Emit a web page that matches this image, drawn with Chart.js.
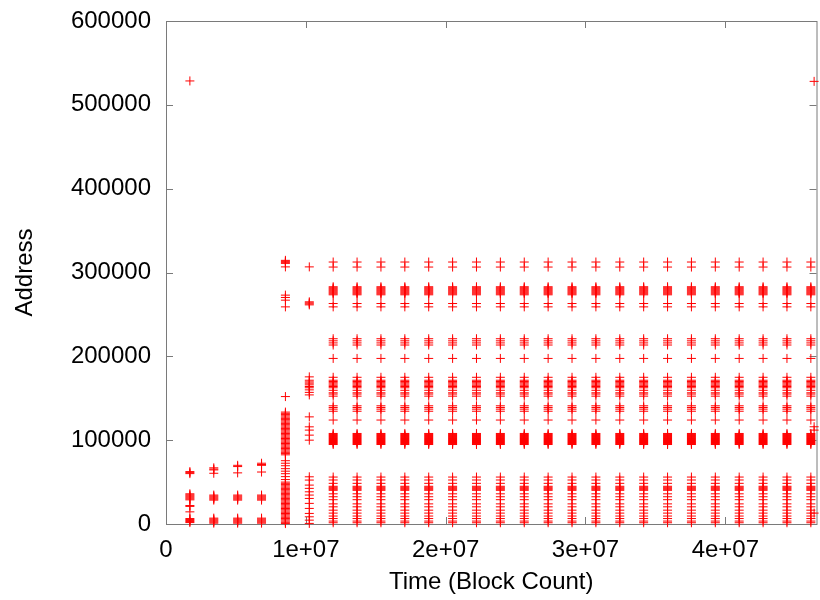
<!DOCTYPE html>
<html>
<head>
<meta charset="utf-8">
<script src="https://cdn.jsdelivr.net/npm/chart.js@4/dist/chart.umd.min.js"></script>
<style>
  html, body { margin: 0; padding: 0; background: #fff; }
  #wrap { width: 820px; height: 600px; overflow: hidden; }
</style>
</head>
<body>
<div id="wrap"><canvas id="chart" width="822" height="600"></canvas></div>
<script>
// axis ticks
const xTicks = [0, 10000000, 20000000, 30000000, 40000000];
const xTickLabels = ['0', '1e+07', '2e+07', '3e+07', '4e+07'];
const yTicks = [0, 100000, 200000, 300000, 400000, 500000, 600000];
const yTickLabels = ['0', '100000', '200000', '300000', '400000', '500000', '600000'];
const xMax = 46520000;

// sampling times (block count) of each column
const earlyTimes = [1708000, 3416000, 5124000, 6832000];
const burstTime = 8540000;
const transitionTime = 10248000;
const steadyTimes = [11956000, 13664000, 15372000, 17080000, 18788000, 20496000, 22204000,
  23912000, 25620000, 27328000, 29036000, 30744000, 32452000, 34160000, 35868000, 37576000,
  39284000, 40992000, 42700000, 44408000, 46116000];
const edgeTime = 46350000;

// addresses seen in each column
const early1 = [528500, 62500, 61300, 60100, 36000, 34800, 33600, 32400, 31200, 30000, 28800,
  22000, 21000, 14500, 6500, 5300, 4100, 2900, 1700];
const early2 = [67000, 65500, 64500, 60500, 34500, 33300, 32100, 30900, 29700, 28500,
  7000, 5800, 4600, 3400, 2200, 1000];
const early3 = [70000, 68500, 61000, 34500, 33300, 32100, 30900, 29700, 28500,
  7000, 5800, 4600, 3400, 2200, 1000];
const early4 = [72500, 71000, 70000, 62000, 34500, 33300, 32100, 30900, 29700, 28500,
  7000, 5800, 4600, 3400, 2200, 1000];
const burstAddresses = [314500, 313300, 312100, 310900, 306700, 273000, 270200, 267000, 259000,
  152000,
  133500, 132000, 130500, 129000, 127500, 126000, 124500, 123000, 121500, 120000, 118500,
  117000, 115500, 114000, 112500, 111000, 109500, 108000, 106500, 105000, 103500, 102000,
  100500, 99000, 97500, 96000, 94500, 93000, 91500, 90000, 88500, 87000, 85500, 84000, 82500,
  75500, 72500, 69500, 66000, 63000, 60000, 56500, 53000,
  50000, 48500, 47000, 45500, 44000, 42500, 41000, 39500, 38000, 36500, 35000, 33500, 32000,
  30500, 29000, 27500, 26000, 24500, 23000, 21500, 20000, 18500, 17000, 15500, 14000, 12500,
  11000, 9500, 8000, 6500, 5000, 3500, 2000, 500];
const transitionAddresses = [306700, 265000, 263800, 262600, 261400,
  175500, 171500, 169500, 168000, 166000, 164000, 162500, 160000, 157000, 154000,
  127800, 115900, 112000, 106000, 100000,
  56300, 52400, 46400, 42500, 38400, 34500, 30500, 24600, 18600, 12600, 8600, 4600, 700];
const steadyAddresses = [312500, 306500,
  283000, 281800, 280600, 279400, 278200, 277000, 275800, 274600, 273400,
  263000, 259000,
  221000, 218500, 216000, 213500,
  197500,
  175000, 171500, 170000, 168500, 167000, 165500, 164000, 162500, 159500, 156500, 155000, 152500,
  141000, 139000, 137000, 134500,
  124000,
  108000, 106800, 105600, 104400, 103200, 102000, 100800, 99600, 98400, 97200, 96000, 94800,
  56000, 52500, 48500,
  45000, 43800, 42600, 41400, 40200,
  36000, 32500, 29000,
  24000, 20500, 16500,
  13000, 9500, 6500, 3500,
  1500];
const edgeAddresses = [528000, 116000, 112000, 13000];

const column = (t, list) => list.map(a => ({ x: t, y: a }));
const earlyLists = [early1, early2, early3, early4];

let points = [];
earlyTimes.forEach((t, i) => { points = points.concat(column(t, earlyLists[i])); });
points = points.concat(column(burstTime, burstAddresses));
points = points.concat(column(transitionTime, transitionAddresses));
steadyTimes.forEach(t => { points = points.concat(column(t, steadyAddresses)); });
points = points.concat(column(edgeTime, edgeAddresses));

// gnuplot-like box with inward ticks
const frame = {
  id: 'frame',
  beforeDatasetsDraw(chart) {
    const { ctx, chartArea: a, scales: { x, y } } = chart;
    ctx.save();
    ctx.strokeStyle = '#7a7a7a';
    ctx.lineWidth = 1;
    ctx.strokeRect(a.left + 0.5, a.top + 0.5, a.right - a.left, a.bottom - a.top);
    ctx.beginPath();
    xTicks.forEach(v => {
      const px = Math.round(x.getPixelForValue(v)) + 0.5;
      ctx.moveTo(px, a.bottom); ctx.lineTo(px, a.bottom - 7);
      ctx.moveTo(px, a.top); ctx.lineTo(px, a.top + 7);
    });
    yTicks.forEach(v => {
      const py = Math.round(y.getPixelForValue(v)) + 0.5;
      ctx.moveTo(a.left, py); ctx.lineTo(a.left + 7, py);
      ctx.moveTo(a.right, py); ctx.lineTo(a.right - 7, py);
    });
    ctx.stroke();
    ctx.restore();
  }
};

const font = { family: '"Liberation Sans", Arial, sans-serif', size: 24 };

new Chart(document.getElementById('chart'), {
  type: 'scatter',
  data: {
    datasets: [{
      data: points,
      pointStyle: 'cross',
      pointRadius: 4.5,
      pointHoverRadius: 4.5,
      borderColor: '#ff0000',
      backgroundColor: '#ff0000',
      borderWidth: 1,
      clip: false
    }]
  },
  options: {
    responsive: false,
    animation: false,
    devicePixelRatio: 1,
    layout: { padding: { top: 21, right: 1, left: 0, bottom: 0 } },
    plugins: { legend: { display: false }, tooltip: { enabled: false } },
    events: [],
    scales: {
      x: {
        type: 'linear',
        min: 0,
        max: xMax,
        grid: { display: false, drawTicks: false },
        border: { display: false },
        afterBuildTicks: s => { s.ticks = xTicks.map(v => ({ value: v })); },
        afterFit: s => { s.height = 76; s.paddingLeft = 0; s.paddingRight = 0; },
        ticks: {
          color: '#000',
          font: font,
          padding: 12,
          maxRotation: 0,
          callback: (v, i) => xTickLabels[i]
        },
        title: { display: true, text: 'Time (Block Count)', color: '#000', font: font, padding: { top: 0, bottom: 3 } }
      },
      y: {
        type: 'linear',
        min: 0,
        max: 600000,
        grid: { display: false, drawTicks: false },
        border: { display: false },
        afterBuildTicks: s => { s.ticks = yTicks.map(v => ({ value: v })); },
        afterFit: s => { s.width = 166; s.paddingTop = 0; s.paddingBottom = 0; },
        ticks: {
          color: '#000',
          font: font,
          padding: 15,
          callback: (v, i) => yTickLabels[i]
        },
        title: { display: true, text: 'Address', color: '#000', font: font, padding: { top: 11, bottom: 0 } }
      }
    }
  },
  plugins: [frame]
});
</script>
</body>
</html>
